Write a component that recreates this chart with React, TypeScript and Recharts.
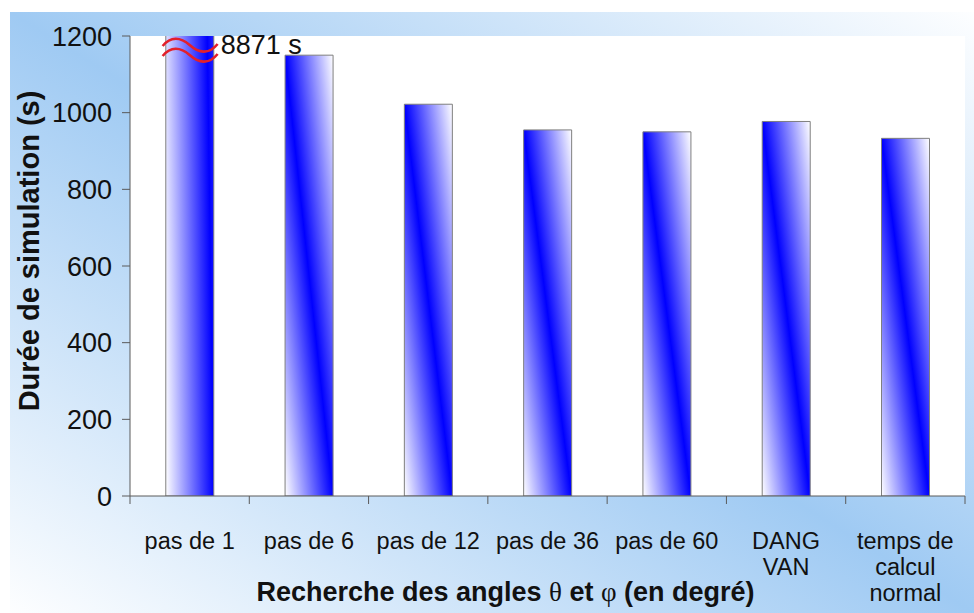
import React from "react";
import {
  BarChart,
  Bar,
  XAxis,
  YAxis,
  CartesianGrid,
  ReferenceDot,
  Label,
} from "recharts";

// ---- data ----
const categories: string[] = [
  "pas de 1",
  "pas de 6",
  "pas de 12",
  "pas de 36",
  "pas de 60",
  "DANG\nVAN",
  "temps de\ncalcul\nnormal",
];
const durations: number[] = [8871, 1150, 1022, 955, 950, 977, 933];
const yTicks: number[] = [0, 200, 400, 600, 800, 1000, 1200];
const yMax = 1200;
const xTitle = "Recherche des angles ";
const yTitle = "Durée de simulation (s)";

const data = categories.map((name, i) => ({ name, value: durations[i] }));

const FONT = "'Liberation Sans', Arial, sans-serif";
const SERIF = "'Liberation Serif', 'Times New Roman', serif";
const TICK_SIZE = 8;
const TICK_MARGIN = 14;
const AXIS_COLOR = "#5a5a5a";

const XTick = (props: any) => {
  const { x, y, payload, index } = props;
  const off = payload && payload.offset ? payload.offset : 0;
  const axisY = y - TICK_SIZE - TICK_MARGIN;
  const lines = String(payload.value).split("\n");
  return (
    <g>
      <line x1={x - off} x2={x - off} y1={axisY} y2={axisY + TICK_SIZE} stroke={AXIS_COLOR} strokeWidth={1} />
      {index === categories.length - 1 && (
        <line x1={x + off} x2={x + off} y1={axisY} y2={axisY + TICK_SIZE} stroke={AXIS_COLOR} strokeWidth={1} />
      )}
      <text x={x} y={y} textAnchor="middle" fontFamily={FONT} fontSize={23.5} fill="#111">
        {lines.map((l, i) => (
          <tspan key={i} x={x} dy={i === 0 ? 31 : 26}>
            {l}
          </tspan>
        ))}
      </text>
    </g>
  );
};

const BreakMark = (props: any) => {
  const { cx, cy } = props;
  const wave = (dy: number) =>
    `M ${cx - 27} ${cy + dy} C ${cx - 19} ${cy + dy - 10} ${cx - 9} ${cy + dy - 9} ${cx} ${cy + dy - 1} C ${cx + 9} ${cy + dy + 7} ${cx + 19} ${cy + dy + 9} ${cx + 28} ${cy + dy - 2}`;
  return (
    <g>
      <path d={wave(10)} fill="none" stroke="#e3202a" strokeWidth={2.6} />
      <path d={wave(20)} fill="none" stroke="#e3202a" strokeWidth={2.6} />
      <text x={cx + 31} y={cy + 18} fontFamily={FONT} fontSize={27} fill="#111">
        {`${durations[0]} s`}
      </text>
    </g>
  );
};

const XTitle = (props: any) => {
  const vb = props.viewBox || { x: 0, y: 0, width: 0, height: 0 };
  const cx = vb.x + vb.width / 2 - 42;
  const y = vb.y + 105;
  return (
    <text x={cx} y={y} textAnchor="middle" fontFamily={FONT} fontSize={27} fontWeight="bold" fill="#111">
      <tspan>{xTitle}</tspan>
      <tspan fontFamily={SERIF} fontWeight="normal">θ</tspan>
      <tspan> et </tspan>
      <tspan fontFamily={SERIF} fontWeight="normal">φ</tspan>
      <tspan> (en degré)</tspan>
    </text>
  );
};

const YTitle = (props: any) => {
  const vb = props.viewBox || { x: 0, y: 0, width: 0, height: 0 };
  const x = vb.x + 39;
  const cy = vb.y + vb.height / 2 - 15;
  return (
    <text
      x={x}
      y={cy}
      transform={`rotate(-90 ${x} ${cy})`}
      textAnchor="middle"
      fontFamily={FONT}
      fontSize={29}
      fontWeight="bold"
      fill="#111"
    >
      {yTitle}
    </text>
  );
};

export default function App() {
  return (
    <div style={{ position: "absolute", left: 0, top: 0, width: 974, height: 613, background: "#fff", fontFamily: FONT }}>
      <div
        style={{
          position: "absolute",
          left: 10,
          top: 12,
          right: 0,
          bottom: 0,
          background: "linear-gradient(to top right, #fdfeff 0%, #9fcaf3 50%, #fdfeff 100%)",
        }}
      />
      <div style={{ position: "absolute", left: 0, top: 0 }}>
        <BarChart
          width={974}
          height={613}
          data={data}
          margin={{ top: 36, right: 9, left: 0, bottom: 0 }}
          barCategoryGap="30%"
        >
          <defs>
            <linearGradient id="barGrad" x1="0" y1="1" x2="1" y2="0">
              <stop offset="0%" stopColor="#ffffff" />
              <stop offset="50%" stopColor="#0000ff" />
              <stop offset="100%" stopColor="#ffffff" />
            </linearGradient>
          </defs>
          <CartesianGrid horizontal={false} vertical={false} fill="#ffffff" />
          <XAxis
            dataKey="name"
            height={117}
            interval={0}
            tick={<XTick />}
            tickSize={TICK_SIZE}
            tickMargin={TICK_MARGIN}
            tickLine={false}
            axisLine={{ stroke: AXIS_COLOR, strokeWidth: 1 }}
          >
            <Label content={<XTitle />} />
          </XAxis>
          <XAxis
            xAxisId="top"
            dataKey="name"
            orientation="top"
            height={0}
            tick={false}
            tickLine={false}
            axisLine={{ stroke: "#a8a8a8", strokeWidth: 1 }}
          />
          <YAxis
            width={130}
            domain={[0, yMax]}
            allowDataOverflow
            ticks={yTicks}
            interval={0}
            tickSize={TICK_SIZE}
            tickMargin={10}
            tick={{ fontFamily: FONT, fontSize: 27, fill: "#111" }}
            tickLine={{ stroke: AXIS_COLOR, strokeWidth: 1 }}
            axisLine={{ stroke: AXIS_COLOR, strokeWidth: 1 }}
          >
            <Label content={<YTitle />} />
          </YAxis>
          <YAxis
            yAxisId="right"
            orientation="right"
            width={0}
            domain={[0, yMax]}
            tick={false}
            tickLine={false}
            axisLine={{ stroke: "#a8a8a8", strokeWidth: 1 }}
          />
          <Bar
            dataKey="value"
            fill="url(#barGrad)"
            stroke="#7f7f7f"
            strokeWidth={1}
            isAnimationActive={false}
          />
          <ReferenceDot x={categories[0]} y={yMax} r={0} shape={<BreakMark />} ifOverflow="visible" />
        </BarChart>
      </div>
    </div>
  );
}
